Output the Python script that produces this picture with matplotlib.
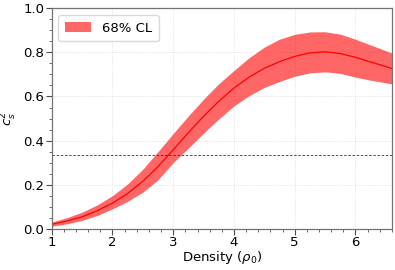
import numpy as np
import matplotlib
matplotlib.use('Agg')
import matplotlib.pyplot as plt
from matplotlib.ticker import AutoMinorLocator

# values
density = [1.0, 1.25, 1.5, 1.75, 2.0, 2.25, 2.5, 2.75, 3.0, 3.25, 3.5, 3.75,
           4.0, 4.25, 4.5, 4.75, 5.0, 5.25, 5.5, 5.75, 6.0, 6.25, 6.5, 6.6]
cs2_median = [0.020, 0.035, 0.054, 0.082, 0.116, 0.160, 0.215, 0.282, 0.358, 0.436, 0.510, 0.578,
              0.638, 0.688, 0.728, 0.758, 0.782, 0.798, 0.803, 0.795, 0.778, 0.757, 0.736, 0.727]
cs2_upper = [0.030, 0.050, 0.075, 0.108, 0.150, 0.203, 0.270, 0.350, 0.432, 0.512, 0.588, 0.658,
             0.718, 0.776, 0.824, 0.860, 0.882, 0.893, 0.894, 0.883, 0.860, 0.834, 0.808, 0.797]
cs2_lower = [0.011, 0.022, 0.038, 0.060, 0.090, 0.124, 0.166, 0.222, 0.300, 0.366, 0.434, 0.498,
             0.557, 0.604, 0.641, 0.668, 0.692, 0.707, 0.712, 0.705, 0.688, 0.674, 0.662, 0.657]
conformal = 1.0 / 3.0

fs = 9.5
fig = plt.figure(figsize=(3.95, 2.7), dpi=100)
ax = fig.add_axes([0.131, 0.153, 0.861, 0.816])

ax.fill_between(density, cs2_lower, cs2_upper, color='red', alpha=0.6, lw=0, label='68% CL')
ax.plot(density, cs2_median, color='red', lw=0.9)
ax.axhline(conformal, color='0.2', ls='--', lw=0.6, dashes=(3, 2))

ax.set_xlim(1, 6.6)
ax.set_ylim(0, 1.0)
ax.set_xticks([1, 2, 3, 4, 5, 6])
ax.set_yticks([0.0, 0.2, 0.4, 0.6, 0.8, 1.0])
ax.xaxis.set_minor_locator(AutoMinorLocator(5))
ax.yaxis.set_minor_locator(AutoMinorLocator(4))
ax.grid(True, which='major', color='0.85', ls=':', lw=0.6)
ax.set_axisbelow(True)

for sp in ax.spines.values():
    sp.set_color('0.45')
    sp.set_linewidth(0.9)
ax.tick_params(which='major', length=4, width=0.8, color='0.3', labelsize=fs, pad=1.5)
ax.tick_params(which='minor', length=2.2, width=0.6, color='0.3')

ax.set_xlabel(r'Density ($\rho_0$)', fontsize=fs)
ax.set_ylabel(r'$c_s^2$', fontsize=fs)
ax.xaxis.set_label_coords(0.5, -0.09)
ax.yaxis.set_label_coords(-0.095, 0.5)

ax.legend(loc='upper left', fontsize=fs, frameon=True, framealpha=1, edgecolor='0.85',
          handlelength=2.0, borderpad=0.5)

fig.savefig('out.png', dpi=100)
